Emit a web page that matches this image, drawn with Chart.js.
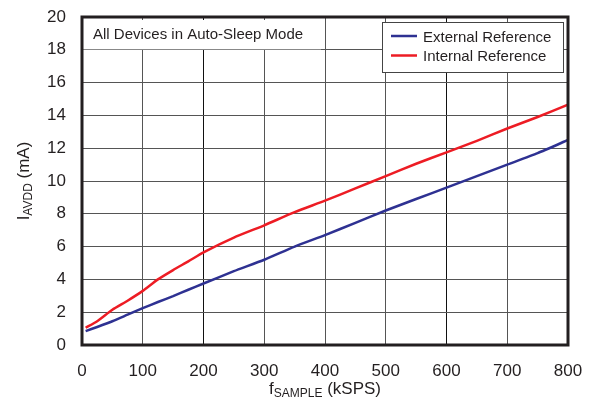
<!DOCTYPE html>
<html>
<head>
<meta charset="utf-8">
<script src="https://cdn.jsdelivr.net/npm/chart.js@4.4.1/dist/chart.umd.min.js"></script>
<style>
  html, body { margin: 0; padding: 0; background: #fff; }
  #wrap { width: 594px; height: 407px; }
</style>
</head>
<body>
<div id="wrap"><canvas id="chart" width="594" height="407"></canvas></div>
<script>
// sample rate (kSPS)
const fSample = [6, 25, 50, 75, 100, 125, 150, 175, 200, 250, 300, 350, 400, 450, 500, 550, 600, 650, 700, 750, 800];
// IAVDD (mA)
const externalRef = [0.85, 1.1, 1.45, 1.85, 2.25, 2.62, 2.98, 3.37, 3.75, 4.5, 5.2, 6.0, 6.7, 7.45, 8.2, 8.9, 9.6, 10.3, 11.0, 11.7, 12.5];
const internalRef = [1.05, 1.45, 2.15, 2.7, 3.3, 4.0, 4.57, 5.1, 5.65, 6.55, 7.3, 8.1, 8.8, 9.55, 10.3, 11.05, 11.75, 12.45, 13.2, 13.9, 14.65];
const seriesNames = ['External Reference', 'Internal Reference'];
const xTicks = [0, 100, 200, 300, 400, 500, 600, 700, 800];
const yTicks = [0, 2, 4, 6, 8, 10, 12, 14, 16, 18, 20];
const note = 'All Devices in Auto-Sleep Mode';

const FONT = '"Liberation Sans", Arial, sans-serif';
const INK = '#231f20';

const toPoints = (ys) => ys.map((y, i) => ({ x: fSample[i], y: y }));

// white boxes, legend, titles and frame
const decor = {
    id: 'decor',
    beforeDatasetsDraw(chart) {
        const { ctx, chartArea: a, scales } = chart;
        ctx.save();
        // note box
        ctx.fillStyle = '#fff';
        ctx.fillRect(a.left + 1, a.top + 3, 320 - a.left, scales.y.getPixelForValue(18) - a.top - 3.5);
        ctx.fillStyle = INK;
        ctx.font = '15px ' + FONT;
        ctx.textBaseline = 'alphabetic';
        ctx.textAlign = 'left';
        ctx.fillText(note, 93, 39);

        // legend box
        const lx = 382, ly = 22, lw = 181, lh = 50;
        ctx.fillStyle = '#fff';
        ctx.fillRect(lx, ly, lw, lh);
        ctx.strokeStyle = '#444';
        ctx.lineWidth = 1;
        ctx.strokeRect(lx + 0.5, ly + 0.5, lw, lh);
        chart.data.datasets.forEach((ds, i) => {
            const yy = 36 + i * 19.5;
            ctx.strokeStyle = ds.borderColor;
            ctx.lineWidth = 2.5;
            ctx.beginPath();
            ctx.moveTo(391, yy);
            ctx.lineTo(417, yy);
            ctx.stroke();
            ctx.fillStyle = INK;
            ctx.font = '15px ' + FONT;
            ctx.fillText(ds.label, 423, yy + 5.5);
        });
        ctx.restore();
    },
    afterDatasetsDraw(chart) {
        const { ctx, chartArea: a } = chart;
        ctx.save();
        ctx.strokeStyle = INK;
        ctx.lineWidth = 3;
        ctx.strokeRect(a.left, a.top, a.right - a.left, a.bottom - a.top);
        ctx.restore();
    },
    afterDraw(chart) {
        const { ctx, chartArea: a } = chart;
        const drawSub = (main, sub, rest, cx, cy) => {
            ctx.font = '17px ' + FONT;
            const w1 = ctx.measureText(main).width;
            const w3 = ctx.measureText(rest).width;
            ctx.font = '12px ' + FONT;
            const w2 = ctx.measureText(sub).width;
            let x = cx - (w1 + w2 + w3) / 2;
            ctx.fillStyle = INK;
            ctx.textAlign = 'left';
            ctx.textBaseline = 'alphabetic';
            ctx.font = '17px ' + FONT;
            ctx.fillText(main, x, cy);
            x += w1;
            ctx.font = '12px ' + FONT;
            ctx.fillText(sub, x, cy + 3);
            x += w2;
            ctx.font = '17px ' + FONT;
            ctx.fillText(rest, x, cy);
        };
        ctx.save();
        drawSub('f', 'SAMPLE', ' (kSPS)', (a.left + a.right) / 2, 394);
        ctx.translate(29, (a.top + a.bottom) / 2);
        ctx.rotate(-Math.PI / 2);
        drawSub('I', 'AVDD', ' (mA)', 0, 0);
        ctx.restore();
    }
};

new Chart(document.getElementById('chart'), {
    type: 'line',
    data: {
        datasets: [
            {
                label: seriesNames[0],
                data: toPoints(externalRef),
                borderColor: '#2e3192',
                borderWidth: 2.5,
                pointRadius: 0,
                tension: 0.2,
            },
            {
                label: seriesNames[1],
                data: toPoints(internalRef),
                borderColor: '#ed1c24',
                borderWidth: 2.5,
                pointRadius: 0,
                tension: 0.2,
            },
        ],
    },
    options: {
        responsive: false,
        animation: false,
        layout: { padding: { top: 17, right: 26, left: 0, bottom: 0 } },
        scales: {
            x: {
                type: 'linear',
                min: 0,
                max: 800,
                afterBuildTicks: (s) => { s.ticks = xTicks.map(v => ({ value: v })); },
                afterFit: (s) => { s.height = 62; s.paddingLeft = 0; s.paddingRight = 0; },
                grid: {
                    drawTicks: false,
                    color: (c) => (c.tick && (c.tick.value === 200 || c.tick.value === 600)) ? '#111' : '#555',
                    lineWidth: 1,
                },
                border: { display: false },
                ticks: { padding: 16, color: INK, font: { family: FONT, size: 17 } },
            },
            y: {
                min: 0,
                max: 20,
                afterBuildTicks: (s) => { s.ticks = yTicks.map(v => ({ value: v })); },
                afterFit: (s) => { s.width = 82; s.paddingTop = 0; s.paddingBottom = 0; },
                grid: { drawTicks: false, color: '#555', lineWidth: 1 },
                border: { display: false },
                ticks: { padding: 16, color: INK, font: { family: FONT, size: 17 } },
            },
        },
        plugins: {
            legend: { display: false },
            tooltip: { enabled: false },
        },
    },
    plugins: [decor],
});
</script>
</body>
</html>
